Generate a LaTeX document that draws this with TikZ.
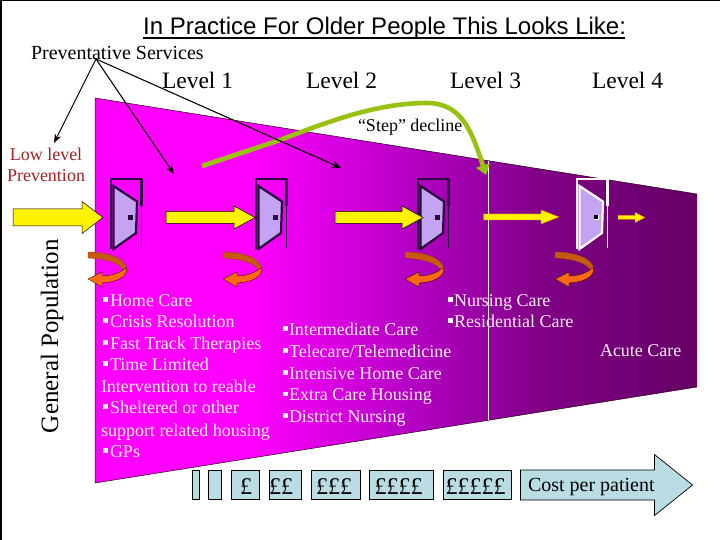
\documentclass[tikz,border=0pt]{standalone}
\usepackage{fontspec}
\setmainfont{Liberation Serif}
\newfontfamily\arialfont{Liberation Sans}
\usetikzlibrary{arrows.meta}
\definecolor{fundark}{HTML}{660066}
\definecolor{funmid}{HTML}{B000C0}
\definecolor{funlight}{HTML}{FF00FF}
\definecolor{stepgreen}{HTML}{99C210}
\definecolor{costblue}{HTML}{B9DDE3}
\definecolor{doorleaf}{HTML}{C4A4F2}
\definecolor{doorink}{HTML}{2A0A40}
\definecolor{curlbrown}{HTML}{C85A10}
\definecolor{curlorange}{HTML}{FF6A10}
\definecolor{lowred}{HTML}{A82020}
\definecolor{listwhite}{HTML}{FFEEFF}
\pgfdeclarehorizontalshading{funnelshade}{100bp}{
 color(0bp)=(funlight); color(25bp)=(funlight); color(38bp)=(funlight);
 color(52bp)=(funmid); color(62bp)=(fundark!65!funmid); color(75bp)=(fundark); color(100bp)=(fundark)}
\tikzset{
 lab/.style={anchor=base west,inner sep=0pt,outer sep=0pt,font=\fontsize{18}{18}\selectfont},
 listtxt/.style={lab,text=listwhite},
 lvl/.style={lab,font=\fontsize{23.5}{24}\selectfont},
 costbox/.style={draw=black,line width=0.7pt,fill=costblue},
 pound/.style={anchor=base,inner sep=0pt,font=\fontsize{24}{24}\selectfont},
 yarrow/.style={draw=black,line width=0.5pt,fill=yellow},
 yarrowthin/.style={draw=orange,line width=0.3pt,fill=yellow},
 pointer/.style={draw=black!90!purple,line width=1.1pt,-{Stealth[length=9pt,width=7pt]}},
}
% bullet
\newcommand{\blt}[2]{\fill[listwhite] (#1,#2-9) rectangle (#1+4.5,#2-4.5);}
% door: x of frame left, frame colour, leaf outline colour
\newcommand{\doorat}[3]{%
 \begin{scope}[shift={(#1,0)}]
  \draw[#2,line width=2pt] (0.5,249) -- (0.5,179.5) -- (32,179.5);
  \draw[#2,line width=1.6pt] (31.5,179.5) -- (31.5,248);
  \draw[#2,line width=2.6pt] (31.5,179.5) -- (31.5,206);
  \draw[#3,line width=2.2pt,fill=doorleaf,line join=miter] (3.5,186) -- (27,201.5) -- (26,233) -- (3.5,249) -- cycle;
  \fill[#3] (18,215) rectangle (23,220);
 \end{scope}}
% curled arrow
\newcommand{\curlat}[1]{%
 \begin{scope}[shift={(#1,0)}]
  \draw[curlbrown!70!black,line width=0.3pt,fill=curlbrown] (0,252) .. controls (20,252) and (38,258) .. (39,270) -- (36,272) .. controls (34,263) and (18,259) .. (0,258) -- cycle;
  \draw[black,line width=0.3pt,fill=curlorange] (0,279) -- (14,272) -- (14,276) .. controls (24,276) and (34,272) .. (37,268) -- (39,269) .. controls (38,278) and (28,282) .. (14,283) -- (14,287) -- cycle;
 \end{scope}}
\newcommand{\yarr}[7]{\draw[#7] (#1,#4-#5) -- (#2,#4-#5) -- (#2,#4-#6) -- (#3,#4) -- (#2,#4+#6) -- (#2,#4+#5) -- (#1,#4+#5) -- cycle;}
\begin{document}
\begin{tikzpicture}[x=1pt,y=-1pt]
\useasboundingbox (0,0) rectangle (720,540);
\fill[white] (0,0) rectangle (720,540);
\draw[black,line width=2pt] (1,540) -- (1,0.5);
\draw[black,line width=1pt] (0,0.5) -- (720,0.5);
% funnel
\shade[shading=funnelshade] (95,98) -- (697,194) -- (697,387) -- (95,483) -- cycle;
\draw[black!80!purple,line width=0.5pt] (95,483) -- (95,98) -- (697,194);
\draw[black!80!purple,line width=0.5pt] (697,387) -- (95,483);
\draw[white!90!pink,line width=0.7pt] (488,161.5) -- (488,420);
% title
\node[anchor=base west,inner sep=0pt,font=\arialfont\fontsize{24}{24}\selectfont] (title) at (143,35) {In Practice For Older People This Looks Like:};
\coordinate (ulL) at (143,38);
\coordinate (ulR) at (625,38);
\draw[black,line width=1.8pt] (ulL) -- (ulR);
% labels
\node[lab,font=\fontsize{20}{20}\selectfont] (prev) at (31,60) {Preventative Services};
\node[lvl] (l1) at (162,89) {Level 1};
\node[lvl] (l2) at (306,89) {Level 2};
\node[lvl] (l3) at (450,89) {Level 3};
\node[lvl] (l4) at (592,89) {Level 4};
\node[lab] (step) at (358,132) {“Step” decline};
\node[lab,text=lowred,anchor=base] (low1) at (46,161) {Low level};
\node[lab,text=lowred,anchor=base] (low2) at (46,182) {Prevention};
\node[lab,font=\fontsize{25}{25}\selectfont,rotate=90] (genpop) at (58,433) {General Population};
% green arrow
\coordinate (gs) at (202,166);
\coordinate (ge) at (486,175);
\draw[stepgreen,line width=4.6pt,-{Triangle[length=10pt,width=14pt]}] (gs) -- (280,140) .. controls (325,123) and (375,103) .. (427,103) .. controls (462,103) and (472,132) .. (ge);
% doors
\doorat{110}{doorink}{doorink}
\doorat{255}{doorink}{doorink}
\doorat{417}{doorink}{doorink}
\doorat{576}{white!90!pink}{white!90!pink}
\fill[black] (594,215.5) rectangle (597.5,219);
% yellow arrows
\yarr{13}{82}{103}{217.5}{8.5}{16}{yarrow}
\yarr{166}{234}{255}{217.5}{6}{11.5}{yarrow}
\yarr{335}{402}{423}{217.5}{6}{11.5}{yarrow}
\yarr{483.5}{541}{559}{217}{3}{7}{yarrowthin}
\yarr{618}{635}{645}{217.5}{2}{5}{yarrowthin}
% curls
\curlat{88}
\curlat{223}
\curlat{405}
\curlat{555}
% pointers
\coordinate (pv) at (96,59);
\coordinate (pa) at (54,143);
\coordinate (pb) at (174,174);
\coordinate (pc) at (341,168);
\draw[pointer] (pv) -- (pa);
\draw[pointer] (pv) -- (pb);
\draw[pointer] (pv) -- (pc);
% list 1
\blt{103}{306}\node[listtxt] (a1) at (110,306) {Home Care};
\blt{103}{327}\node[listtxt] (a2) at (110,327) {Crisis Resolution};
\blt{103}{349}\node[listtxt] (a3) at (110,349) {Fast Track Therapies};
\blt{103}{370}\node[listtxt] (a4) at (110,370) {Time Limited};
\node[listtxt] (a5) at (101,392) {Intervention to reable};
\blt{103}{413}\node[listtxt] (a6) at (110,413) {Sheltered or other};
\node[listtxt] (a7) at (101,436) {support related housing};
\blt{103}{457}\node[listtxt] (a8) at (110,457) {GPs};
% list 2
\blt{283}{335}\node[listtxt] (b1) at (289,335) {Intermediate Care};
\blt{283}{357}\node[listtxt] (b2) at (289,357) {Telecare/Telemedicine};
\blt{283}{379}\node[listtxt] (b3) at (289,379) {Intensive Home Care};
\blt{283}{400.5}\node[listtxt] (b4) at (289,400.5) {Extra Care Housing};
\blt{283}{422}\node[listtxt] (b5) at (289,422) {District Nursing};
% list 3
\blt{448}{306}\node[listtxt] (c1) at (454,306) {Nursing Care};
\blt{448}{327}\node[listtxt] (c2) at (454,327) {Residential Care};
\node[listtxt] (c3) at (600,356) {Acute Care};
% cost boxes
\draw[costbox] (192.5,470) rectangle (199,499.5);
\draw[costbox] (208,470) rectangle (221.5,499.5);
\draw[costbox] (231,470) rectangle (259.5,499.5);
\draw[costbox] (269.5,470) rectangle (301.5,499.5);
\draw[costbox] (311.5,470) rectangle (360.5,499.5);
\draw[costbox] (369.5,470) rectangle (433,499.5);
\draw[costbox] (443.5,470) rectangle (511,499.5);
\draw[costbox] (520.5,470) -- (654.5,470) -- (654.5,454.5) -- (692.5,485) -- (654.5,515.5) -- (654.5,500) -- (520.5,500) -- cycle;
\node[pound] (p1) at (246,494) {£};
\node[pound] (p2) at (281,494) {££};
\node[pound] (p3) at (334,494) {£££};
\node[pound] (p4) at (398.5,494) {££££};
\node[pound] (p5) at (475.5,494) {£££££};
\node[lab,font=\fontsize{20}{20}\selectfont] (cost) at (528,491) {Cost per patient};
\end{tikzpicture}
\end{document}
